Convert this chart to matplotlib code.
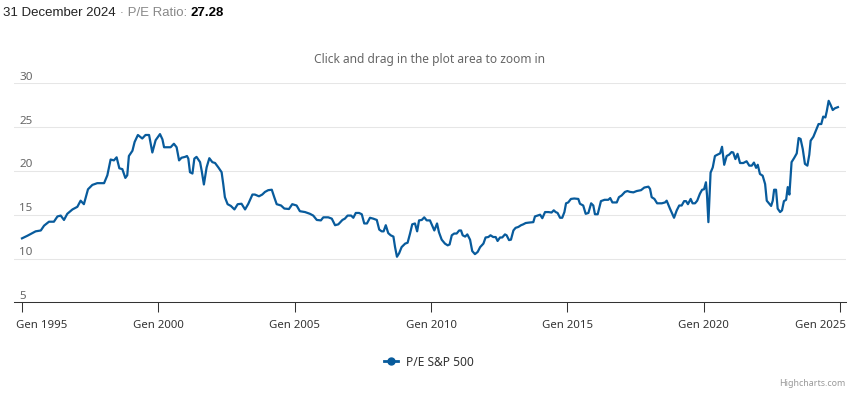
import matplotlib
matplotlib.use('Agg')
import matplotlib.pyplot as plt
from matplotlib.lines import Line2D

# P/E S&P 500 (decimal years)
years = [
    1995.00, 1995.20, 1995.32, 1995.50, 1995.69, 1995.81, 1995.99, 1996.17, 1996.30, 1996.42,
    1996.54, 1996.66, 1996.85, 1997.03, 1997.15, 1997.27, 1997.42, 1997.58, 1997.76, 1998.01,
    1998.13, 1998.25, 1998.37, 1998.47, 1998.57, 1998.68, 1998.79, 1998.86, 1998.92, 1999.05,
    1999.13, 1999.25, 1999.41, 1999.53, 1999.66, 1999.78, 1999.90, 2000.06, 2000.15, 2000.21,
    2000.45, 2000.57, 2000.67, 2000.76, 2000.85, 2000.98, 2001.05, 2001.10, 2001.16, 2001.25,
    2001.32, 2001.40, 2001.53, 2001.59, 2001.67, 2001.77, 2001.87, 2001.98, 2002.08, 2002.20,
    2002.32, 2002.38, 2002.44, 2002.54, 2002.66, 2002.79, 2002.91, 2003.05, 2003.18, 2003.30,
    2003.45, 2003.54, 2003.69, 2003.81, 2003.91, 2004.03, 2004.16, 2004.25, 2004.34, 2004.50,
    2004.62, 2004.79, 2004.91, 2005.07, 2005.19, 2005.38, 2005.56, 2005.68, 2005.81, 2005.96,
    2006.05, 2006.23, 2006.36, 2006.48, 2006.60, 2006.75, 2006.84, 2006.94, 2007.07, 2007.15,
    2007.24, 2007.36, 2007.46, 2007.55, 2007.65, 2007.76, 2007.88, 2008.01, 2008.10, 2008.19,
    2008.26, 2008.34, 2008.43, 2008.52, 2008.62, 2008.68, 2008.75, 2008.83, 2008.92, 2009.05,
    2009.14, 2009.23, 2009.31, 2009.41, 2009.49, 2009.56, 2009.66, 2009.75, 2009.84, 2009.96,
    2010.05, 2010.12, 2010.22, 2010.29, 2010.39, 2010.51, 2010.61, 2010.68, 2010.76, 2010.85,
    2010.94, 2011.03, 2011.10, 2011.16, 2011.25, 2011.33, 2011.43, 2011.51, 2011.61, 2011.71,
    2011.80, 2011.92, 2012.00, 2012.10, 2012.18, 2012.28, 2012.37, 2012.44, 2012.53, 2012.61,
    2012.71, 2012.77, 2012.86, 2012.93, 2013.02, 2013.10, 2013.20, 2013.30, 2013.38, 2013.47,
    2013.59, 2013.75, 2013.81, 2013.91, 2014.00, 2014.08, 2014.18, 2014.30, 2014.42, 2014.50,
    2014.57, 2014.64, 2014.73, 2014.81, 2014.89, 2014.95, 2015.03, 2015.13, 2015.25, 2015.40,
    2015.46, 2015.58, 2015.67, 2015.77, 2015.87, 2015.95, 2016.01, 2016.11, 2016.23, 2016.36,
    2016.50, 2016.57, 2016.65, 2016.81, 2016.89, 2016.99, 2017.11, 2017.20, 2017.30, 2017.42,
    2017.54, 2017.70, 2017.82, 2017.97, 2018.03, 2018.09, 2018.19, 2018.29, 2018.46, 2018.58,
    2018.64, 2018.76, 2018.91, 2019.01, 2019.10, 2019.19, 2019.28, 2019.35, 2019.42, 2019.52,
    2019.59, 2019.68, 2019.76, 2019.86, 2019.94, 2020.01, 2020.08, 2020.12, 2020.17, 2020.20,
    2020.25, 2020.33, 2020.41, 2020.50, 2020.60, 2020.67, 2020.75, 2020.84, 2020.93, 2021.02,
    2021.08, 2021.16, 2021.24, 2021.33, 2021.45, 2021.57, 2021.67, 2021.76, 2021.84, 2021.92,
    2021.98, 2022.06, 2022.16, 2022.25, 2022.31, 2022.39, 2022.47, 2022.53, 2022.58, 2022.65,
    2022.71, 2022.80, 2022.87, 2022.94, 2023.02, 2023.08, 2023.14, 2023.22, 2023.32, 2023.41,
    2023.48, 2023.55, 2023.63, 2023.71, 2023.80, 2023.87, 2023.92, 2024.02, 2024.12, 2024.21,
    2024.31, 2024.38, 2024.46, 2024.51, 2024.58, 2024.65, 2024.73, 2024.81, 2024.92,
]
pe = [
    12.3, 12.6, 12.8, 13.1, 13.2, 13.75, 14.2, 14.2, 14.8, 14.9,
    14.4, 15.1, 15.6, 15.9, 16.6, 16.2, 17.9, 18.4, 18.6, 18.6,
    19.5, 21.3, 21.2, 21.55, 20.3, 20.2, 19.2, 19.5, 21.7, 22.3,
    23.3, 24.1, 23.7, 24.1, 24.1, 22.1, 23.5, 24.2, 23.6, 22.7,
    22.7, 23.1, 22.7, 21.2, 21.5, 21.6, 21.7, 21.4, 19.85, 19.7,
    21.4, 21.6, 21.0, 20.0, 18.45, 20.4, 21.45, 21.0, 20.9, 20.4,
    19.85, 18.5, 17.0, 16.2, 16.0, 15.6, 16.2, 16.25, 15.6, 16.25,
    17.3, 17.3, 17.1, 17.3, 17.6, 17.8, 17.85, 17.0, 16.2, 16.05,
    15.7, 15.65, 16.2, 16.05, 15.4, 15.3, 15.1, 14.9, 14.4, 14.35,
    14.7, 14.7, 14.55, 13.8, 13.9, 14.4, 14.55, 14.9, 14.9, 14.65,
    15.2, 15.2, 15.05, 14.0, 14.0, 14.65, 14.55, 14.4, 13.3, 13.1,
    13.1, 13.8, 12.9, 12.65, 12.5, 11.3, 10.2, 10.6, 11.3, 11.7,
    11.8, 12.85, 13.9, 14.0, 13.1, 14.35, 14.4, 14.7, 14.35, 14.35,
    13.7, 13.2, 14.0, 13.0, 12.15, 11.7, 11.5, 11.6, 12.65, 12.85,
    12.85, 13.2, 13.2, 12.65, 12.5, 12.75, 12.15, 10.85, 10.5, 10.75,
    11.3, 11.7, 12.4, 12.45, 12.65, 12.45, 12.45, 12.0, 12.4, 12.4,
    12.75, 12.65, 12.1, 12.15, 13.2, 13.5, 13.6, 13.8, 13.9, 14.05,
    14.1, 14.15, 14.8, 14.9, 15.0, 14.6, 15.3, 15.3, 15.25, 15.5,
    15.3, 15.2, 14.65, 14.65, 15.3, 16.3, 16.4, 16.8, 16.85, 16.8,
    16.25, 16.05, 15.1, 15.2, 16.3, 16.05, 15.05, 15.05, 16.55, 16.7,
    16.7, 16.9, 16.4, 16.4, 17.0, 17.2, 17.6, 17.7, 17.6, 17.55,
    17.7, 17.8, 18.1, 18.2, 17.95, 17.0, 16.8, 16.3, 16.3, 16.4,
    16.6, 15.7, 14.65, 15.5, 16.05, 16.05, 16.55, 16.55, 16.2, 16.8,
    16.3, 16.3, 16.6, 17.4, 17.85, 17.9, 18.7, 17.2, 14.15, 16.2,
    19.8, 20.4, 21.7, 21.85, 22.0, 22.75, 20.7, 21.7, 21.85, 22.15,
    22.1, 21.35, 21.95, 20.9, 20.9, 21.1, 20.6, 20.6, 20.95, 20.35,
    20.7, 19.65, 19.45, 18.5, 16.6, 16.3, 16.0, 16.6, 17.85, 17.85,
    15.7, 15.3, 15.5, 16.55, 16.7, 18.15, 17.3, 21.0, 21.5, 22.0,
    23.75, 23.65, 22.5, 20.8, 20.6, 21.85, 23.45, 23.9, 24.65, 25.35,
    25.35, 26.2, 26.1, 26.8, 28.0, 27.55, 26.95, 27.15, 27.28,
]

x_ticks = [1995, 2000, 2005, 2010, 2015, 2020, 2025]
x_labels = ['Gen %d' % y for y in x_ticks]
y_ticks = [5, 10, 15, 20, 25, 30]

LINE = '#085b9c'
W, H = 848, 397
FONT = 'Noto Sans'


def main():
    fig = plt.figure(figsize=(W / 100, H / 100), dpi=100)
    ax = fig.add_axes([14 / W, (H - 302.3) / H, 832 / W, (302.3 - 83.3) / H])

    ax.plot(years, pe, color=LINE, lw=1.6, solid_joinstyle='round', zorder=3)
    ax.set_xlim(1994.707, 2025.216)
    ax.set_ylim(5, 30)

    for v in y_ticks[1:]:
        ax.axhline(v, color='#e6e6e6', lw=0.75, zorder=0)
    for v in y_ticks:
        ax.annotate(str(v), xy=(0, v), xycoords=('axes fraction', 'data'),
                    xytext=(5, 3.5), textcoords='offset pixels', ha='left',
                    va='baseline', color='#666666', fontsize=8.4, family=FONT)

    for s in ['top', 'right', 'left']:
        ax.spines[s].set_visible(False)
    ax.spines['bottom'].set_color('#333333')
    ax.spines['bottom'].set_linewidth(0.75)
    ax.set_yticks([])
    ax.set_xticks(x_ticks, [''] * len(x_ticks))
    ax.tick_params(axis='x', length=7.2, width=0.75, color='#333333')

    # x labels; the end ones are pushed inside the chart like highcharts does
    for i, (yr, lab) in enumerate(zip(x_ticks, x_labels)):
        ha, dx = 'center', 0
        if i == 0:
            ha, dx = 'left', -6
        elif i == len(x_ticks) - 1:
            ha, dx = 'right', 6
        ax.annotate(lab, xy=(yr, 0), xycoords=('data', 'axes fraction'),
                    xytext=(dx, -23), textcoords='offset pixels', ha=ha,
                    va='center', color='#333333', fontsize=8.2, family=FONT,
                    annotation_clip=False)

    # title in three pieces
    renderer = fig.canvas.get_renderer()
    parts = [('31 December 2024', '#222222', 'normal'),
             (' \u00b7 P/E Ratio: ', '#888888', 'normal'),
             ('27.28', '#000000', 'bold')]
    x = 3
    for s, c, w in parts:
        t = fig.text(x / W, (H - 13) / H, s, color=c, fontweight=w, fontsize=9.5,
                     family='Liberation Sans', va='center', ha='left')
        bb = t.get_window_extent(renderer)
        x = bb.x1

    fig.text(430 / W, (H - 60) / H, 'Click and drag in the plot area to zoom in',
             ha='center', va='center', color='#666666', fontsize=8.6, family=FONT)

    handle = Line2D([], [], color=LINE, lw=2, marker='o', ms=5)
    leg = fig.legend([handle], ['P/E S&P 500'], loc='center',
                     bbox_to_anchor=(429 / W, (H - 362) / H), frameon=False,
                     handlelength=1.1, handletextpad=0.7, prop={'family': FONT, 'size': 8.6})
    for t in leg.get_texts():
        t.set_color('#333333')

    fig.text(845 / W, (H - 384) / H, 'Highcharts.com', ha='right', va='center',
             color='#999999', fontsize=6.4, family=FONT)

    fig.savefig('out.png', dpi=100)


if __name__ == "__main__":
    main()
